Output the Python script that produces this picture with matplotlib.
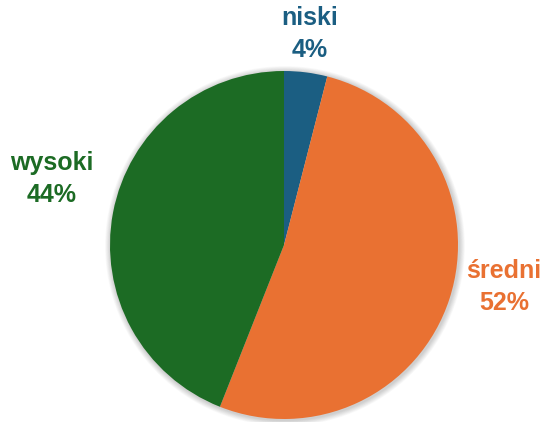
import matplotlib.pyplot as plt
from matplotlib.patches import Circle

categories = ["niski", "średni", "wysoki"]
values = [4, 52, 44]
colors = ["#1B5E82", "#E97132", "#1C6B24"]

# label positions (pixel coords, y from top)
label_pos = {"niski": (310, 34), "średni": (504, 287), "wysoki": (52, 179)}

fig = plt.figure(figsize=(5.44, 4.22), dpi=100)
ax = fig.add_axes([0, 0, 1, 1])

cx, cy, r = 284, 422 - 245, 174

# soft shadow
for k in range(8):
    ax.add_patch(Circle((cx + 1, cy - 1), r + 1 + k * 0.7, color="black",
                        alpha=0.025, lw=0, zorder=0))

ax.pie(values, colors=colors, startangle=90, counterclock=False,
       center=(cx, cy), radius=r, frame=True,
       wedgeprops=dict(linewidth=0))
ax.set_xlim(0, 544)
ax.set_ylim(0, 422)
ax.set_aspect("equal")
ax.axis("off")

for cat, val, col in zip(categories, values, colors):
    x, y = label_pos[cat]
    ax.text(x, 422 - y, f"{cat}\n{val}%", color=col, ha="center", va="center",
            fontsize=18, fontweight="bold", family="Liberation Sans",
            linespacing=1.4)

fig.savefig("out.png", dpi=100)
